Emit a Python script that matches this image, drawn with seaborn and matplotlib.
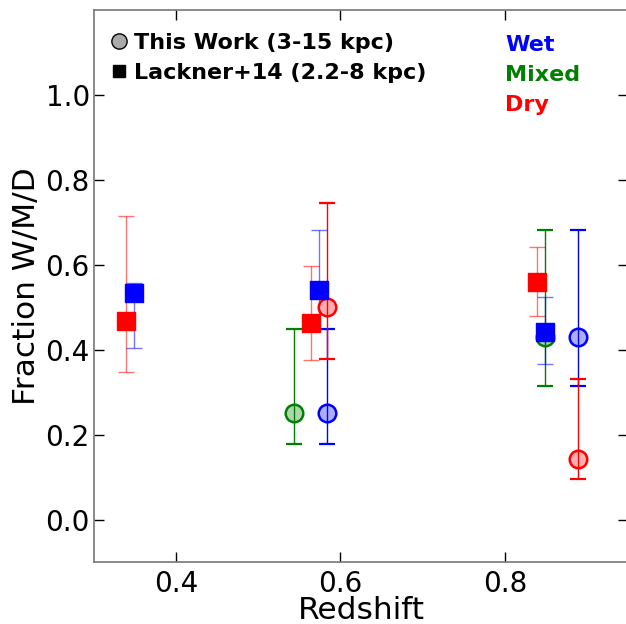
import numpy as np
import pandas as pd
import matplotlib
matplotlib.use("Agg")
import matplotlib.pyplot as plt
import seaborn as sns
from matplotlib.colors import to_rgba
from matplotlib.lines import Line2D

# This Work (circles)
tw_class = ["Mixed", "Wet", "Dry", "Mixed", "Wet", "Dry"]
tw_z = [0.544, 0.584, 0.584, 0.849, 0.889, 0.889]
tw_frac = [0.25, 0.25, 0.50, 0.43, 0.43, 0.143]
tw_lo = [0.178, 0.178, 0.378, 0.315, 0.315, 0.096]
tw_hi = [0.448, 0.448, 0.746, 0.683, 0.683, 0.331]

# Lackner+14 (squares)
lk_class = ["Dry", "Wet", "Dry", "Wet", "Dry", "Wet"]
lk_z = [0.339, 0.349, 0.564, 0.574, 0.839, 0.849]
lk_frac = [0.467, 0.533, 0.462, 0.540, 0.559, 0.441]
lk_lo = [0.347, 0.404, 0.376, 0.448, 0.479, 0.366]
lk_hi = [0.716, 0.556, 0.596, 0.683, 0.643, 0.523]

class_colors = {"Wet": "blue", "Mixed": "green", "Dry": "red"}
legend_labels = ["This Work (3-15 kpc)", "Lackner+14 (2.2-8 kpc)"]

tw = pd.DataFrame({"z": tw_z, "f": tw_frac, "lo": tw_lo, "hi": tw_hi, "c": tw_class})
lk = pd.DataFrame({"z": lk_z, "f": lk_frac, "lo": lk_lo, "hi": lk_hi, "c": lk_class})

sns.set_style("white")
plt.rcParams["font.family"] = ["DejaVu Sans"]
plt.rcParams["text.color"] = "black"
plt.rcParams["axes.labelcolor"] = "black"
plt.rcParams["xtick.color"] = "black"
plt.rcParams["ytick.color"] = "black"

fig = plt.figure(figsize=(6.26, 6.24), dpi=100)
ax = fig.add_axes([94 / 626, 62 / 624, 534 / 626, 552 / 624])

# This Work error bars
for _, r in tw.iterrows():
    col = class_colors[r.c]
    ax.errorbar(r.z, r.f, yerr=[[r.f - r.lo], [r.hi - r.f]], fmt="none",
                ecolor=col, elinewidth=1.0, capsize=6, capthick=1.6, alpha=1.0, zorder=2)
# Lackner error bars (faded)
for _, r in lk.iterrows():
    col = class_colors[r.c]
    ax.errorbar(r.z, r.f, yerr=[[r.f - r.lo], [r.hi - r.f]], fmt="none",
                ecolor=col, elinewidth=1.0, capsize=6, capthick=1.0, alpha=0.55, zorder=3)

# Markers
for cls, col in class_colors.items():
    sub = tw[tw.c == cls]
    if len(sub):
        sns.scatterplot(data=sub, x="z", y="f", ax=ax, marker="o", s=160,
                        color=to_rgba(col, 0.32), edgecolor=col, linewidth=1.8,
                        zorder=4, legend=False)
for cls, col in class_colors.items():
    sub = lk[lk.c == cls]
    if len(sub):
        sns.scatterplot(data=sub, x="z", y="f", ax=ax, marker="s", s=150,
                        color=col, edgecolor=col, linewidth=1.0, zorder=5, legend=False)

ax.set_xlim(0.3, 0.95)
ax.set_ylim(-0.1, 1.2)
ax.set_xticks([0.4, 0.6, 0.8])
ax.set_yticks([0.0, 0.2, 0.4, 0.6, 0.8, 1.0])
ax.set_xticklabels(["0.4", "0.6", "0.8"])
ax.set_yticklabels(["0.0", "0.2", "0.4", "0.6", "0.8", "1.0"])
ax.tick_params(direction="in", length=7, width=1, colors="black", labelsize=20,
               top=True, right=True, bottom=True, left=True, pad=6)
ax.tick_params(axis="y", pad=3)
for sp in ax.spines.values():
    sp.set_color("#777777")
    sp.set_linewidth(1.2)
    sp.set_visible(True)

ax.set_xlabel("Redshift", fontsize=22.5, labelpad=-2, color="black")
ax.set_ylabel("Fraction W/M/D", fontsize=22.5, labelpad=3, color="black")

handles = [
    Line2D([], [], marker="o", linestyle="none", markersize=11,
           markerfacecolor="#aaaaaa", markeredgecolor="black", markeredgewidth=1.0),
    Line2D([], [], marker="s", linestyle="none", markersize=8,
           markerfacecolor="black", markeredgecolor="black"),
]
leg = ax.legend(handles, legend_labels, loc="upper left", frameon=False,
                prop={"weight": "bold", "size": 16}, handletextpad=0.1,
                borderaxespad=0.0, labelspacing=0.45, handlelength=1.2,
                bbox_to_anchor=(0.005, 0.975))
for t in leg.get_texts():
    t.set_color("black")

for i, (cls, col) in enumerate(class_colors.items()):
    ax.text(0.77, 0.937 - i * 0.0545, cls, transform=ax.transAxes, color=col,
            fontsize=16, fontweight="bold", va="center", ha="left")

fig.savefig("out.png", dpi=100)
